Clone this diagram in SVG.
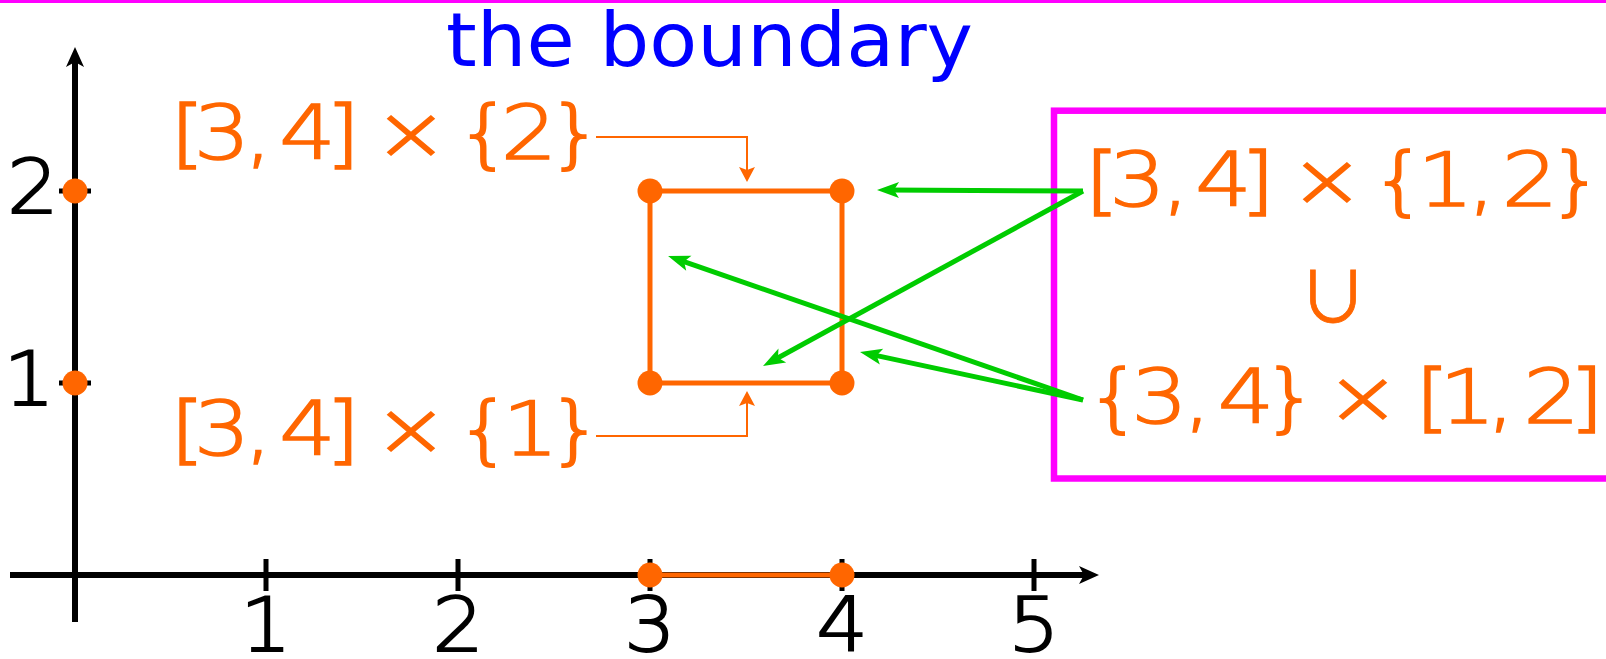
<svg xmlns="http://www.w3.org/2000/svg" width="1606" height="659" viewBox="0 0 1606 659">
<defs>
<style>
.ax{stroke:#000;stroke-width:6;fill:none}
.tk{stroke:#000;stroke-width:5}
.sq{stroke:#ff6600;stroke-width:5;fill:none}
.dot{fill:#ff6600}
.g{stroke:#00cc00;stroke-width:5;fill:none;marker-end:url(#ga)}
.o{stroke:#ff6600;stroke-width:2;fill:none;marker-end:url(#oa)}
.m{font-family:"DejaVu Sans",sans-serif;font-weight:200;font-size:74px;text-anchor:middle;fill:#ff6600;stroke:#ff6600;stroke-width:1.6}
.k{font-family:"DejaVu Sans",sans-serif;font-weight:200;font-size:74px;text-anchor:middle;fill:#000;stroke:#000;stroke-width:1.8}
.u{font-family:"Noto Sans CJK SC","DejaVu Sans",sans-serif;font-size:70px;text-anchor:middle;fill:#ff6600;stroke:#ff6600;stroke-width:0.8}
</style>
<marker id="ga" markerUnits="userSpaceOnUse" markerWidth="24" markerHeight="18" refX="12" refY="8" orient="auto" overflow="visible">
<path d="M0,0 L22,8 L0,16 L5,8 z" fill="#00cc00"/>
</marker>
<marker id="oa" markerUnits="userSpaceOnUse" markerWidth="16" markerHeight="16" refX="8" refY="8" orient="auto" overflow="visible">
<path d="M0,0 L15,8 L0,16 L3,8 z" fill="#ff6600"/>
</marker>
</defs>
<rect x="0" y="0" width="1606" height="3" fill="#ff00ff"/>
<text x="446" y="66" font-family="DejaVu Sans, sans-serif" font-size="74" fill="#0000ff" textLength="527" lengthAdjust="spacingAndGlyphs">the boundary</text>
<g id="axes">
<line class="ax" x1="10" y1="575" x2="1086" y2="575"/>
<polygon points="1099,575 1079,566 1084,575 1079,584" fill="#000"/>
<line class="ax" x1="75" y1="622" x2="75" y2="60"/>
<polygon points="75,47 66,67 75,62 84,67" fill="#000"/>
<path class="tk" d="M266,559V591M458,559V591M650,559V591M842,559V591M1034,559V591M59,191H91M59,383H91"/>
<g transform="scale(1.1 1)">
<text class="k" x="241.8 416.4 590.9 765.5 940" y="651">12345</text>
<text class="k" x="30" y="213">2</text>
<text class="k" x="26.4" y="405">1</text>
</g>
</g>
<g id="square">
<rect class="sq" x="650" y="191" width="192" height="192"/>
<line class="sq" x1="650" y1="575" x2="842" y2="575"/>
<circle class="dot" cx="650" cy="191" r="12.5"/>
<circle class="dot" cx="842" cy="191" r="12.5"/>
<circle class="dot" cx="650" cy="383" r="12.5"/>
<circle class="dot" cx="842" cy="383" r="12.5"/>
<circle class="dot" cx="650" cy="575" r="12.5"/>
<circle class="dot" cx="842" cy="575" r="12.5"/>
<circle class="dot" cx="75" cy="191" r="12.5"/>
<circle class="dot" cx="75" cy="383" r="12.5"/>
</g>
<g id="label-top">
<text class="m" transform="scale(1.2 1)" x="156.25 185 215.4 256.25 285.8 342.5 403.3 440.8 479.6" y="159">[3,4]×{2}</text>
</g>
<g id="label-bottom">
<text class="m" transform="scale(1.2 1)" x="156.25 185 215.4 256.25 285.8 342.5 403.3 442.1 479.6" y="455">[3,4]×{1}</text>
</g>
<g id="union-box">
<rect x="1054" y="110.7" width="600" height="367.8" fill="none" stroke="#ff00ff" stroke-width="6.5"/>
<text class="u" x="1333" y="323">∪</text>
<g transform="scale(1.2 1)">
<text class="m" x="918.3 947.9 979.6 1019.6 1047.9 1105.8 1165.8 1204.6 1234.6 1275 1313.3" y="206">[3,4]×{1,2}</text>
<text class="m" x="928.3 966.25 997.9 1038.3 1075.4 1135.8 1193.75 1222.9 1250.8 1292.9 1322.1" y="423">{3,4}×[1,2]</text>
</g>
</g>
<g id="connectors">
<path class="o" d="M596,137 H747 V175"/>
<path class="o" d="M596,436 H747 V398"/>
<line class="g" x1="1083" y1="191" x2="887" y2="190"/>
<line class="g" x1="1083" y1="191" x2="771.8" y2="361.2"/>
<line class="g" x1="1083" y1="400" x2="677.5" y2="259.3"/>
<line class="g" x1="1083" y1="400" x2="869.8" y2="354.1"/>
</g>
</svg>
